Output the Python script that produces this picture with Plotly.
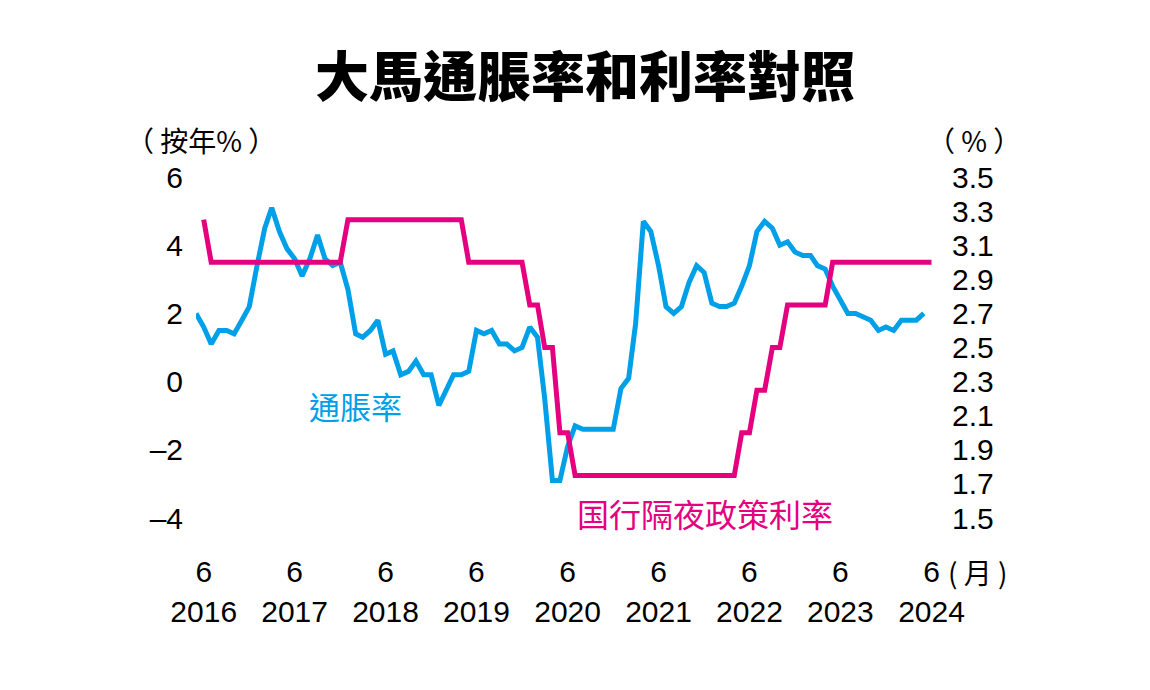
import pandas as pd
import plotly.graph_objects as go

# ---- data ----
# Malaysia CPI inflation, % y/y, monthly May 2016 .. May 2024
infl_2016 = [2.0, 1.6, 1.1, 1.5, 1.5, 1.4, 1.8, 2.2]            # May-Dec
infl_2017 = [3.4, 4.5, 5.1, 4.4, 3.9, 3.6, 3.1, 3.6, 4.3, 3.6, 3.4, 3.5]
infl_2018 = [2.7, 1.4, 1.3, 1.5, 1.8, 0.8, 0.9, 0.2, 0.3, 0.6, 0.2, 0.2]
infl_2019 = [-0.7, -0.2, 0.2, 0.2, 0.3, 1.5, 1.4, 1.5, 1.1, 1.1, 0.9, 1.0]
infl_2020 = [1.6, 1.3, -0.5, -2.9, -2.9, -1.9, -1.3, -1.4, -1.4, -1.4, -1.4, -1.4]
infl_2021 = [-0.2, 0.1, 1.7, 4.7, 4.4, 3.4, 2.2, 2.0, 2.2, 2.9, 3.4, 3.2]
infl_2022 = [2.3, 2.2, 2.2, 2.3, 2.8, 3.4, 4.4, 4.7, 4.5, 4.0, 4.1, 3.8]
infl_2023 = [3.7, 3.7, 3.4, 3.3, 2.8, 2.4, 2.0, 2.0, 1.9, 1.8, 1.5, 1.6]
infl_2024 = [1.5, 1.8, 1.8, 1.8, 2.0]                              # Jan-May
inflation = infl_2016 + infl_2017 + infl_2018 + infl_2019 + infl_2020 + \
    infl_2021 + infl_2022 + infl_2023 + infl_2024

# BNM overnight policy rate, %, monthly Jun 2016 .. Jun 2024
opr_2016 = [3.25, 3.0, 3.0, 3.0, 3.0, 3.0, 3.0]                     # Jun-Dec
opr_2017 = [3.0, 3.0, 3.0, 3.0, 3.0, 3.0, 3.0, 3.0, 3.0, 3.0, 3.0, 3.0]
opr_2018 = [3.25, 3.25, 3.25, 3.25, 3.25, 3.25, 3.25, 3.25, 3.25, 3.25, 3.25, 3.25]
opr_2019 = [3.25, 3.25, 3.25, 3.25, 3.0, 3.0, 3.0, 3.0, 3.0, 3.0, 3.0, 3.0]
opr_2020 = [2.75, 2.75, 2.5, 2.5, 2.0, 2.0, 1.75, 1.75, 1.75, 1.75, 1.75, 1.75]
opr_2021 = [1.75, 1.75, 1.75, 1.75, 1.75, 1.75, 1.75, 1.75, 1.75, 1.75, 1.75, 1.75]
opr_2022 = [1.75, 1.75, 1.75, 1.75, 2.0, 2.0, 2.25, 2.25, 2.5, 2.5, 2.75, 2.75]
opr_2023 = [2.75, 2.75, 2.75, 2.75, 3.0, 3.0, 3.0, 3.0, 3.0, 3.0, 3.0, 3.0]
opr_2024 = [3.0, 3.0, 3.0, 3.0, 3.0, 3.0]                            # Jan-Jun
opr = opr_2016 + opr_2017 + opr_2018 + opr_2019 + opr_2020 + \
    opr_2021 + opr_2022 + opr_2023 + opr_2024

infl_dates = pd.date_range("2016-05-01", periods=len(inflation), freq="MS")
opr_dates = pd.date_range("2016-06-01", periods=len(opr), freq="MS")

years = [2016, 2017, 2018, 2019, 2020, 2021, 2022, 2023, 2024]
x_tickvals = [f"{y}-06-01" for y in years]
month_text = ["6"] * len(years)
year_text = [str(y) for y in years]

left_ticks = [-4, -2, 0, 2, 4, 6]
left_text = ["\u20134", "\u20132", "0", "2", "4", "6"]
right_ticks = [1.5, 1.7, 1.9, 2.1, 2.3, 2.5, 2.7, 2.9, 3.1, 3.3, 3.5]
right_text = [f"{v:.1f}" for v in right_ticks]

BLUE = "#00A0E9"
MAGENTA = "#E4007F"
NUM_FONT = "Liberation Sans, Arial, sans-serif"
CJK_FONT = "Noto Sans CJK TC, Noto Sans CJK SC, sans-serif"

# page has an 8px body margin; figure is sized/positioned to compensate
W, H = 1134, 674
PL, PR, PT, PB = 196, 939.5, 177, 518          # plot box in page pixels
OFF = 8
PW, PH = PR - PL, PB - PT
X_RANGE = ["2016-05-01", "2024-07-01"]

def px(xp):
    return (xp - PL) / PW

def py(yp):
    return (PB - yp) / PH

fig = go.Figure()
fig.add_trace(go.Scatter(x=infl_dates, y=inflation, mode="lines",
                         line=dict(color=BLUE, width=5), name="通脹率",
                         yaxis="y"))
fig.add_trace(go.Scatter(x=opr_dates, y=opr, mode="lines",
                         line=dict(color=MAGENTA, width=5), name="國行隔夜政策利率",
                         yaxis="y2"))
# invisible carrier so the year-label axis is drawn
fig.add_trace(go.Scatter(x=opr_dates, y=opr, mode="lines",
                         line=dict(color="rgba(0,0,0,0)", width=0),
                         hoverinfo="skip", xaxis="x2", yaxis="y2"))

axis_common = dict(showgrid=False, zeroline=False, showline=False, ticks="")
tick_font = dict(family=NUM_FONT, size=30, color="black")

fig.update_layout(
    width=W, height=H,
    paper_bgcolor="white", plot_bgcolor="white",
    showlegend=False,
    margin=dict(l=PL - OFF, r=W - (PR - OFF), t=PT - OFF, b=H - (PB - OFF)),
    title=dict(text="大馬通脹率和利率對照", x=(585 - OFF) / W, xanchor="center",
               y=1 - (78 - OFF) / H, yanchor="middle",
               font=dict(family=CJK_FONT, size=54, color="black", weight=900)),
    xaxis=dict(type="date", range=X_RANGE,
               tickvals=x_tickvals, ticktext=month_text,
               ticklabelstandoff=33, tickfont=tick_font, **axis_common),
    xaxis2=dict(type="date", range=X_RANGE, overlaying="x", side="bottom",
                tickvals=x_tickvals, ticktext=year_text,
                ticklabelstandoff=73, tickfont=tick_font, **axis_common),
    yaxis=dict(range=[-4, 6], tickvals=left_ticks, ticktext=left_text,
               ticklabelstandoff=12, tickfont=tick_font, **axis_common),
    yaxis2=dict(range=[1.5, 3.5], tickvals=right_ticks, ticktext=right_text,
                overlaying="y", side="right",
                ticklabelstandoff=12, tickfont=tick_font, **axis_common),
)

ann = [
    dict(text="（ 按年% ）", x=px(201), y=py(140), xanchor="center",
         font=dict(family=CJK_FONT, size=28, color="black")),
    dict(text="（ % ）", x=px(975), y=py(140), xanchor="center",
         font=dict(family=CJK_FONT, size=28, color="black")),
    dict(text="( 月 )", x=px(947), y=py(572), xanchor="left",
         font=dict(family=CJK_FONT, size=28, color="black")),
    dict(text="通脹率", x=px(356), y=py(405), xanchor="center",
         font=dict(family=CJK_FONT, size=31, color=BLUE)),
    dict(text="国行隔夜政策利率", x=px(705), y=py(513), xanchor="center",
         font=dict(family=CJK_FONT, size=32, color=MAGENTA)),
]
for a in ann:
    fig.add_annotation(xref="paper", yref="paper", showarrow=False,
                       yanchor="middle", **a)

fig.write_html("out.html")
